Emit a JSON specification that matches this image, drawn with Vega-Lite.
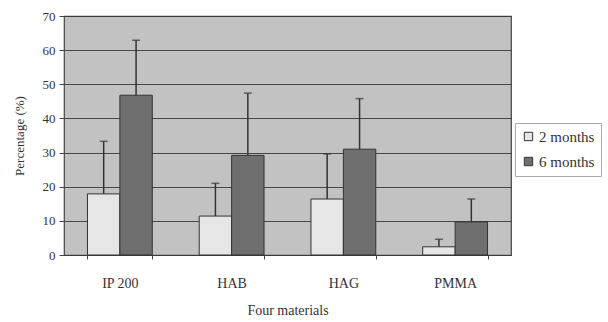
{
  "$schema": "https://vega.github.io/schema/vega-lite/v6.json",
  "width": 447,
  "height": 239,
  "autosize": {"type": "none"},
  "padding": {"left": 64, "top": 16, "right": 97, "bottom": 67},
  "background": "#ffffff",
  "config": {
    "font": "Liberation Serif",
    "view": {"fill": "#c2c2c2", "stroke": "#444", "strokeWidth": 1.2}
  },
  "data": {
    "values": [
      {"material": "IP 200", "period": "2 months", "value": 17.9, "err": 33.3},
      {"material": "IP 200", "period": "6 months", "value": 46.8, "err": 62.9},
      {"material": "HAB", "period": "2 months", "value": 11.4, "err": 21.0},
      {"material": "HAB", "period": "6 months", "value": 29.2, "err": 47.4},
      {"material": "HAG", "period": "2 months", "value": 16.4, "err": 29.6},
      {"material": "HAG", "period": "6 months", "value": 31.0, "err": 45.8},
      {"material": "PMMA", "period": "2 months", "value": 2.4, "err": 4.6},
      {"material": "PMMA", "period": "6 months", "value": 9.7, "err": 16.4}
    ]
  },
  "encoding": {
    "x": {
      "field": "material", "type": "nominal",
      "sort": ["IP 200", "HAB", "HAG", "PMMA"],
      "scale": {"paddingInner": 0.42, "paddingOuter": 0.21},
      "axis": {
        "title": "Four materials", "labelAngle": 0, "labelFontSize": 14, "labelColor": "#333",
        "titleFontSize": 14, "titleColor": "#333", "titleFontWeight": "normal",
        "labelPadding": 17, "titlePadding": 13,
        "tickBand": "extent", "tickSize": 4, "tickColor": "#444", "tickWidth": 1,
        "domain": false, "grid": false
      }
    },
    "xOffset": {"field": "period", "type": "nominal", "scale": {"paddingInner": 0}},
    "y": {
      "field": "value", "type": "quantitative",
      "scale": {"domain": [0, 70], "nice": false},
      "axis": {
        "title": "Percentage (%)", "values": [0, 10, 20, 30, 40, 50, 60, 70], "labelOverlap": false,
        "labelFontSize": 13, "labelColor": "#333", "titleFontSize": 13, "titleColor": "#333",
        "titleFontWeight": "normal", "titlePadding": 16, "labelPadding": 4,
        "grid": true, "gridColor": "#3a3a3a", "gridWidth": 1, "gridOpacity": 0.9,
        "domain": false, "tickColor": "#444", "tickSize": 5
      }
    }
  },
  "layer": [
    {
      "mark": {"type": "bar", "stroke": "#333", "strokeWidth": 1},
      "encoding": {
        "fill": {
          "field": "period", "type": "nominal",
          "scale": {"domain": ["2 months", "6 months"], "range": ["#e6e6e6", "#6f6f6f"]},
          "legend": {
            "title": null, "orient": "none", "legendX": 451, "legendY": 107,
            "strokeColor": "#aaa", "padding": 6, "symbolType": "square", "symbolSize": 70,
            "symbolStrokeColor": "#333", "symbolStrokeWidth": 1,
            "labelFontSize": 15, "labelColor": "#333", "rowPadding": 9, "labelOffset": 3
          }
        }
      }
    },
    {
      "mark": {"type": "rule", "color": "#333", "strokeWidth": 1.5},
      "encoding": {
        "y2": {"field": "err"}
      }
    },
    {
      "mark": {"type": "tick", "color": "#333", "thickness": 1.5, "size": 8},
      "encoding": {
        "y": {
          "field": "err", "type": "quantitative",
          "scale": {"domain": [0, 70], "nice": false},
          "axis": {
            "title": "Percentage (%)", "values": [0, 10, 20, 30, 40, 50, 60, 70], "labelOverlap": false,
            "labelFontSize": 13, "labelColor": "#333", "titleFontSize": 13, "titleColor": "#333",
            "titleFontWeight": "normal", "titlePadding": 16, "labelPadding": 4,
            "grid": true, "gridColor": "#3a3a3a", "gridWidth": 1, "gridOpacity": 0.9,
            "domain": false, "tickColor": "#444", "tickSize": 5
          }
        }
      }
    }
  ]
}
